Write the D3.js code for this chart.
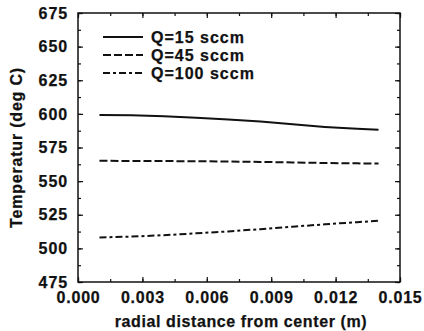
<!DOCTYPE html>
<html>
<head>
<meta charset="utf-8">
<script src="https://cdn.jsdelivr.net/npm/d3@7"></script>
<style>
  body { margin: 0; background: #fff; }
  text { font-family: "Liberation Sans", Arial, sans-serif; font-weight: bold; fill: #111; stroke: #111; stroke-width: 0.25px; }
</style>
</head>
<body>
<div id="chart"></div>
<script>
// data
var xs = [0.001, 0.0025, 0.004, 0.0055, 0.007, 0.0085, 0.010, 0.0115, 0.013, 0.014];
var q15 = [599.2, 598.9, 598.3, 597.2, 595.9, 594.3, 592.2, 590.3, 588.9, 588.2];
var q45 = [565.1, 565.0, 564.9, 564.8, 564.6, 564.3, 563.9, 563.5, 563.2, 563.1];
var q100 = [508.1, 508.8, 509.8, 511.2, 512.6, 514.3, 516.1, 517.9, 519.5, 520.5];
var seriesNames = ["Q=15 sccm", "Q=45 sccm", "Q=100 sccm"];
var xTicks = [0, 0.003, 0.006, 0.009, 0.012, 0.015];
var yTicks = [475, 500, 525, 550, 575, 600, 625, 650, 675];

var svgWidth = 424, svgHeight = 331;
var margin = {top: 13, right: 24, bottom: 49, left: 78};
var width = svgWidth - margin.left - margin.right;
var height = svgHeight - margin.top - margin.bottom;

var svg = d3.select("#chart").append("svg")
  .attr("width", svgWidth).attr("height", svgHeight);
var g = svg.append("g")
  .attr("transform", "translate(" + margin.left + "," + margin.top + ")");

var xScale = d3.scaleLinear().domain([0, 0.015]).range([0, width]);
var yScale = d3.scaleLinear().domain([475, 675]).range([height, 0]);

// minor tick positions
var xMinor = d3.range(0, 0.01501, 0.0015);
var yMinor = d3.range(475, 675.1, 12.5);

// frame
g.append("rect").attr("width", width).attr("height", height)
  .attr("fill", "none").attr("stroke", "#111").attr("stroke-width", 1.5);

// inward ticks on all four sides
var tickStyle = function(s) { s.selectAll("line").attr("stroke", "#111").attr("stroke-width", 1.2); s.select(".domain").remove(); };

g.append("g").attr("transform", "translate(0," + height + ")")
  .call(d3.axisBottom(xScale).tickValues(xMinor).tickSize(-3).tickFormat("")).call(tickStyle);
g.append("g").attr("transform", "translate(0," + height + ")")
  .call(d3.axisBottom(xScale).tickValues(xTicks).tickSize(-5).tickPadding(10).tickFormat(d3.format(".3f")))
  .call(tickStyle)
  .selectAll("text").attr("font-size", 16).attr("letter-spacing", 0.8).attr("fill", "#111");
g.append("g")
  .call(d3.axisTop(xScale).tickValues(xMinor).tickSize(-3).tickFormat("")).call(tickStyle);
g.append("g")
  .call(d3.axisTop(xScale).tickValues(xTicks).tickSize(-5).tickFormat("")).call(tickStyle);

g.append("g")
  .call(d3.axisLeft(yScale).tickValues(yMinor).tickSize(-3).tickFormat("")).call(tickStyle);
g.append("g")
  .call(d3.axisLeft(yScale).tickValues(yTicks).tickSize(-5).tickPadding(10).tickFormat(d3.format("d")))
  .call(tickStyle)
  .selectAll("text").attr("font-size", 16).attr("letter-spacing", 0.9).attr("fill", "#111");
g.append("g").attr("transform", "translate(" + width + ",0)")
  .call(d3.axisRight(yScale).tickValues(yMinor).tickSize(-3).tickFormat("")).call(tickStyle);
g.append("g").attr("transform", "translate(" + width + ",0)")
  .call(d3.axisRight(yScale).tickValues(yTicks).tickSize(-5).tickFormat("")).call(tickStyle);

// series lines
var dashes = [null, "8,3", "7,3,3,3"];
var allSeries = [q15, q45, q100];
var line = d3.line().x(function(d) { return xScale(d[0]); }).y(function(d) { return yScale(d[1]); });

allSeries.forEach(function(vals, i) {
  g.append("path")
    .datum(xs.map(function(x, j) { return [x, vals[j]]; }))
    .attr("d", line)
    .attr("fill", "none")
    .attr("stroke", "#111")
    .attr("stroke-width", 2)
    .attr("stroke-dasharray", dashes[i]);
});

// legend
var legend = g.append("g").attr("transform", "translate(25,24)");
seriesNames.forEach(function(name, i) {
  var row = legend.append("g").attr("transform", "translate(0," + (i * 18) + ")");
  row.append("line").attr("x1", 0).attr("x2", 40).attr("y1", 0).attr("y2", 0)
    .attr("stroke", "#111").attr("stroke-width", 2).attr("stroke-dasharray", dashes[i]);
  row.append("text").attr("x", 48).attr("y", 5.5).attr("font-size", 16).attr("letter-spacing", 1).text(name);
});

// axis labels
svg.append("text")
  .attr("transform", "translate(22," + (margin.top + height / 2) + ") rotate(-90)")
  .attr("text-anchor", "middle")
  .attr("font-size", 16)
  .attr("letter-spacing", 0.8)
  .text("Temperatur (deg C)");

svg.append("text")
  .attr("x", margin.left + width / 2 + 2)
  .attr("y", 327)
  .attr("text-anchor", "middle")
  .attr("font-size", 16)
  .attr("letter-spacing", 0.6)
  .text("radial distance from center (m)");
</script>
</body>
</html>
